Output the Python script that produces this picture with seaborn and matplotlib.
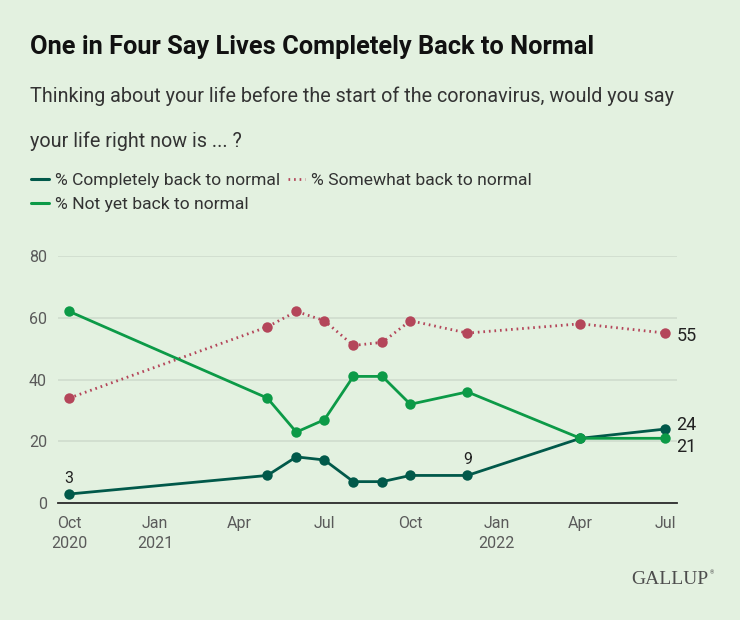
import numpy as np
import pandas as pd
import matplotlib
matplotlib.use("Agg")
import matplotlib.pyplot as plt
import matplotlib.dates as mdates
from matplotlib.lines import Line2D
import seaborn as sns

# survey dates (approx. month of each wave)
dates = pd.to_datetime(["2020-10-01", "2021-05-01", "2021-06-01", "2021-07-01",
                        "2021-08-01", "2021-09-01", "2021-10-01", "2021-12-01",
                        "2022-04-01", "2022-07-01"])
completely = [3, 9, 15, 14, 7, 7, 9, 9, 21, 24]
somewhat = [34, 57, 62, 59, 51, 52, 59, 55, 58, 55]
not_yet = [62, 34, 23, 27, 41, 41, 32, 36, 21, 21]

series_names = ["% Completely back to normal", "% Somewhat back to normal",
                "% Not yet back to normal"]
tick_dates = pd.to_datetime(["2020-10-01", "2021-01-01", "2021-04-01", "2021-07-01",
                             "2021-10-01", "2022-01-01", "2022-04-01", "2022-07-01"])
tick_labels = ["Oct\n2020", "Jan\n2021", "Apr", "Jul", "Oct", "Jan\n2022", "Apr", "Jul"]
y_ticks = [0, 20, 40, 60, 80]

BG = "#e3f1e0"
colors = {series_names[0]: "#01594a", series_names[1]: "#b4465a",
          series_names[2]: "#0c9a47"}
dashes = {series_names[0]: "", series_names[1]: (0.6, 1.4), series_names[2]: ""}

df = pd.concat([
    pd.DataFrame({"date": dates, "value": vals, "series": name})
    for name, vals in zip(series_names, [completely, somewhat, not_yet])
])

sns.set_style("white")
plt.rcParams["font.family"] = ["Roboto", "DejaVu Sans"]

fig = plt.figure(figsize=(7.4, 6.2), dpi=100, facecolor=BG)
ax = fig.add_axes([58 / 740, 1 - 503.3 / 620, (676.7 - 58) / 740, (503.3 - 255.7) / 620])
ax.set_facecolor(BG)

sns.lineplot(data=df, x="date", y="value", hue="series", style="series",
             palette=colors, dashes=dashes, markers={n: "o" for n in series_names},
             markersize=7.5, markeredgewidth=0, linewidth=2.0, legend=False,
             ax=ax, clip_on=False, zorder=3)

ax.set_xlim(pd.Timestamp("2020-09-19"), pd.Timestamp("2022-07-13"))
ax.set_ylim(0, 80)
ax.set_yticks(y_ticks)
ax.set_xticks(tick_dates)
ax.set_xticklabels(tick_labels, linespacing=1.45)
ax.tick_params(axis="both", length=0, labelsize=11.5, labelcolor="#5a5a5a")
ax.tick_params(axis="x", pad=9)
ax.tick_params(axis="y", pad=8)
ax.grid(axis="y", color="#cfdccd", linewidth=1.2)
ax.set_xlabel("")
ax.set_ylabel("")
for s in ["top", "right", "left"]:
    ax.spines[s].set_visible(False)
ax.spines["bottom"].set_color("#2b2b2b")
ax.spines["bottom"].set_linewidth(1.3)
ax.spines["bottom"].set_zorder(4)

# point labels
for i in [0, 7]:
    ax.annotate(str(completely[i]), (dates[i], completely[i]), xytext=(0, 11.5),
                textcoords="offset points", ha="center", va="center", fontsize=11.5,
                color="#222222")
for vals, dy in [(somewhat, -2), (completely, 3), (not_yet, -6)]:
    ax.annotate(str(vals[-1]), (dates[-1], vals[-1]), xytext=(8, dy),
                textcoords="offset points", ha="left", va="center", fontsize=13, color="#222222")

# title and subtitle
fig.text(30 / 740, 1 - 47 / 620, "One in Four Say Lives Completely Back to Normal",
         fontsize=18.3, fontweight="bold", color="#111111", va="center", ha="left")
fig.text(30 / 740, 1 - 96 / 620,
         "Thinking about your life before the start of the coronavirus, would you say",
         fontsize=14.2, color="#333333", va="center", ha="left")
fig.text(30 / 740, 1 - 141 / 620, "your life right now is ... ?",
         fontsize=14.2, color="#333333", va="center", ha="left")

# legend
handles = [Line2D([], [], color=colors[series_names[0]], linewidth=2.2),
           Line2D([], [], color=colors[series_names[2]], linewidth=2.2),
           Line2D([], [], color=colors[series_names[1]], linewidth=2.0, dashes=(0.6, 1.4))]
labels = [series_names[0], series_names[2], series_names[1]]
leg = fig.legend(handles, labels, loc="upper left", bbox_to_anchor=(31 / 740, 1 - 173 / 620),
                 ncol=2, frameon=False, fontsize=12.6, handlelength=1.0, handletextpad=0.35,
                 columnspacing=0.45, labelspacing=0.5, borderaxespad=0, borderpad=0)
for t in leg.get_texts():
    t.set_color("#333333")

# logo
fig.text(708 / 740, 1 - 580 / 620, "GALLUP", family=["Liberation Serif", "DejaVu Serif"],
         fontsize=14, color="#4d4d4d", ha="right", va="center")
fig.text(710 / 740, 1 - 573 / 620, "®", fontsize=4, color="#4d4d4d", ha="left", va="center")

fig.savefig("out.png", dpi=100, facecolor=BG)
